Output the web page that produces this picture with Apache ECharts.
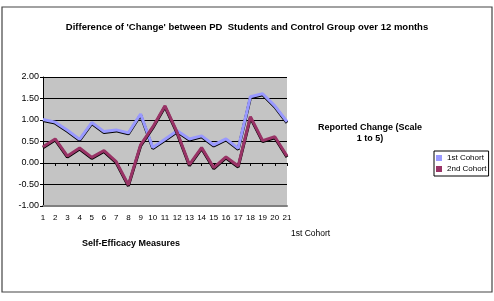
<!DOCTYPE html>
<html>
<head>
<meta charset="utf-8">
<script src="https://cdn.jsdelivr.net/npm/echarts@6/dist/echarts.min.js"></script>
<style>html,body{margin:0;padding:0;background:#fff;}#c{width:494px;height:301px;}</style>
</head>
<body>
<div id="c"></div>
<script>
var categories = ['1','2','3','4','5','6','7','8','9','10','11','12','13','14','15','16','17','18','19','20','21'];
var cohort1 = [1.01,0.95,0.76,0.55,0.94,0.73,0.77,0.70,1.14,0.36,0.55,0.75,0.56,0.63,0.42,0.56,0.34,1.54,1.61,1.33,0.96];
var cohort2 = [0.38,0.56,0.16,0.35,0.13,0.29,0.03,-0.51,0.42,0.84,1.33,0.71,-0.04,0.36,-0.11,0.14,-0.07,1.08,0.52,0.61,0.16];
var seriesNames = ['1st Cohort','2nd Cohort'];
var yTicks = {min: -1, max: 2, interval: 0.5};
var titleText = "Difference of 'Change' between PD  Students and Control Group over 12 months";
var xTitle = 'Self-Efficacy Measures';
var yTitle = 'Reported Change (Scale\n1 to 5)';
var depthLabel = '1st Cohort';

var FONT = '"Liberation Sans", Arial, sans-serif';
var chart = echarts.init(document.getElementById('c'), null, {renderer: 'canvas'});
chart.setOption({
  animation: false,
  backgroundColor: '#ffffff',
  title: {
    text: titleText, left: 'center', top: 17,
    textStyle: {fontFamily: FONT, fontSize: 9.5, fontWeight: 'bold', color: '#000'}
  },
  legend: {
    data: seriesNames, orient: 'vertical', left: 434, top: 151,
    itemWidth: 6, itemHeight: 6, itemGap: 3, padding: [3, 2, 3, 2],
    borderColor: '#000', borderWidth: 1, backgroundColor: '#fff',
    icon: 'rect',
    textStyle: {fontFamily: FONT, fontSize: 8, color: '#000'}
  },
  grid: {
    left: 43, top: 77, width: 244, height: 129,
    show: true, backgroundColor: '#c4c4c4', borderWidth: 0
  },
  xAxis: [{
    type: 'category', data: categories, boundaryGap: false,
    axisLine: {onZero: true, lineStyle: {color: '#000', width: 1}},
    axisTick: {show: true, length: 3, interval: 0, lineStyle: {color: '#000'}},
    axisLabel: {show: false},
    splitLine: {show: false}
  }, {
    type: 'category', data: categories, boundaryGap: false, position: 'bottom',
    axisLine: {show: true, onZero: false, lineStyle: {color: '#808080', width: 2}},
    axisTick: {show: false},
    axisLabel: {fontFamily: FONT, fontSize: 8, color: '#000', margin: 8, interval: 0},
    splitLine: {show: false}
  }],
  yAxis: {
    type: 'value', min: yTicks.min, max: yTicks.max, interval: yTicks.interval,
    axisLine: {show: true, lineStyle: {color: '#000'}},
    axisTick: {show: true, length: 3, lineStyle: {color: '#000'}},
    axisLabel: {fontFamily: FONT, fontSize: 9, color: '#000', margin: 4,
      formatter: function (v) { return v.toFixed(2); }},
    splitLine: {show: true, lineStyle: {color: '#000', width: 1}}
  },
  graphic: [
    {type: 'rect', shape: {x: 2, y: 7, width: 490, height: 285},
     style: {fill: 'none', stroke: '#444', lineWidth: 1.2}, silent: true, z: -1},
    {type: 'text', left: 82, top: 239,
     style: {text: xTitle, font: 'bold 9px ' + FONT, fill: '#000'}},
    {type: 'text', left: 318, top: 122,
     style: {text: yTitle, font: 'bold 9px ' + FONT, fill: '#000', align: 'center', textAlign: 'center', lineHeight: 11}},
    {type: 'text', left: 291, top: 229,
     style: {text: depthLabel, font: '8.5px ' + FONT, fill: '#000'}}
  ],
  series: [{
    name: seriesNames[0], type: 'line', data: cohort1, xAxisIndex: 0,
    symbol: 'none', color: '#9999ff',
    lineStyle: {width: 3, color: '#9999ff', shadowColor: '#000', shadowBlur: 0, shadowOffsetY: 1}
  }, {
    name: seriesNames[1], type: 'line', data: cohort2, xAxisIndex: 0,
    symbol: 'none', color: '#993366',
    lineStyle: {width: 3, color: '#993366', shadowColor: '#000', shadowBlur: 0, shadowOffsetY: 1}
  }]
});
</script>
</body>
</html>
